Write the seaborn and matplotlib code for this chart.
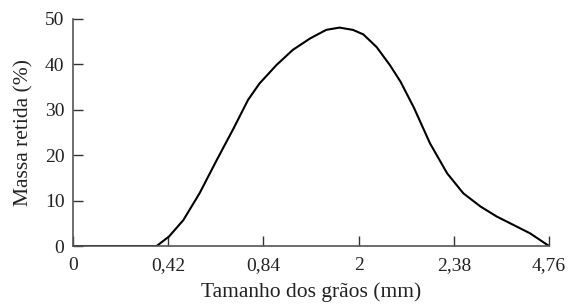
import numpy as np
import pandas as pd
import seaborn as sns
import matplotlib.pyplot as plt

# tick labels of the sieve sizes (equally spaced on the axis)
tick_labels = ["0", "0,42", "0,84", "2", "2,38", "4,76"]

# points: position along the axis (tick index) and retained mass (%)
pos = [0.0, 0.5, 0.88, 1.01, 1.16, 1.33, 1.51, 1.68, 1.84, 1.96, 2.14, 2.31, 2.49,
       2.66, 2.8, 2.94, 3.05, 3.19, 3.33, 3.44, 3.58, 3.75, 3.93, 4.1, 4.28, 4.45,
       4.63, 4.8, 5.0]
massa = [0.0, 0.0, 0.0, 2.1, 5.7, 11.6, 18.9, 25.6, 32.2, 35.8, 39.9, 43.2, 45.7,
         47.6, 48.1, 47.6, 46.6, 43.8, 39.8, 36.2, 30.5, 22.6, 16.0, 11.6, 8.7, 6.5,
         4.6, 2.8, 0.0]

df = pd.DataFrame({"pos": pos, "massa": massa})

sns.set_style("ticks")
plt.rcParams["font.family"] = ["Liberation Serif", "DejaVu Serif"]

fig = plt.figure(figsize=(5.69, 3.06), dpi=100)
ax = fig.add_axes([0.128, 0.196, 0.837, 0.742])
sns.lineplot(data=df, x="pos", y="massa", color="black", linewidth=1.5, sort=False, ax=ax)
for line in ax.lines:
    line.set_solid_joinstyle("round")

ax.set_xlim(0, 5)
ax.set_ylim(0, 50)
ax.set_xticks(range(len(tick_labels)))
ax.set_xticklabels(tick_labels)
ax.set_yticks([0, 10, 20, 30, 40, 50])
ax.tick_params(direction="in", length=7, width=1, colors="#333333", labelsize=14,
               labelcolor="#222222", pad=6)
ax.tick_params(axis="x", pad=8)
ax.set_xlabel("Tamanho dos grãos (mm)", fontsize=15.5, labelpad=6, color="#222222")
ax.set_ylabel("Massa retida (%)", fontsize=15.5, labelpad=8, color="#222222")
for s in ["top", "right"]:
    ax.spines[s].set_visible(False)
for s in ["left", "bottom"]:
    ax.spines[s].set_color("#555555")
    ax.spines[s].set_linewidth(1.2)

fig.savefig("out.png", dpi=100)
